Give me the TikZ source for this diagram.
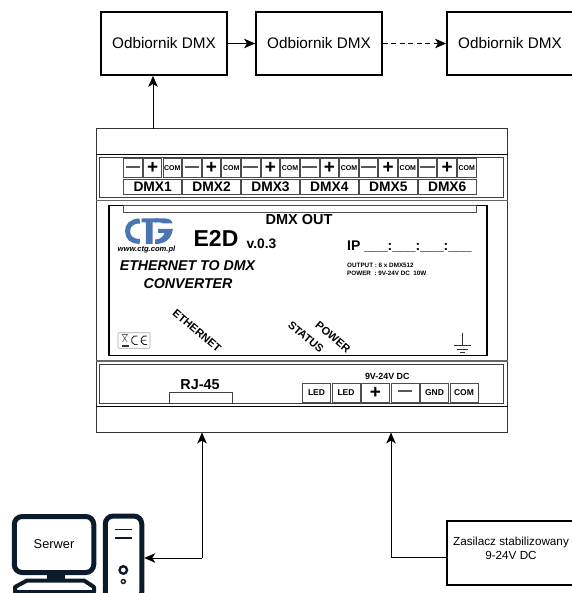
\documentclass[tikz,border=0pt]{standalone}
\usepackage{fontspec}
\setmainfont{Liberation Sans}
\usetikzlibrary{arrows.meta}
\definecolor{navy}{HTML}{0B1B2B}
\definecolor{ctgblue}{HTML}{4A74B4}
\newcommand{\fs}[1]{\fontsize{#1}{#1}\selectfont}
\tikzset{
  x=1pt,y=-1pt,
  tip/.style={-{Stealth[length=11pt,width=9.5pt,inset=3pt]},line width=.8pt,draw=black},
  rbox/.style={draw=black,line width=1.8pt,minimum height=63pt,font=\fs{15.3},inner sep=0pt},
  panel/.style={draw=black!75,line width=.9pt},
  divider/.style={draw=black!60,line width=1.5pt},
  cellbox/.style={draw=black!70,line width=1pt,inner sep=0pt,font=\bfseries},
  tcell/.style={cellbox,minimum width=18.6pt,minimum height=18.5pt},
  dmxcell/.style={cellbox,minimum width=57.6pt,minimum height=14.5pt,font=\bfseries\fs{13.8}},
  lcell/.style={cellbox,minimum width=28pt,minimum height=19pt,font=\bfseries\fs{8.5}},
  plain/.style={inner sep=0pt,font=\bfseries},
  comp/.style={draw=navy,line width=5pt},
}
\newcommand{\minus}{\textcolor{black!65}{\rule[.2em]{1.05em}{.13em}}}
\begin{document}
\begin{tikzpicture}
\useasboundingbox (0,0) rectangle (571,593);
% device body
\node[draw=black!80,line width=1pt,minimum width=410.5pt,minimum height=303pt,inner sep=0pt] (device) at (301.75,280.5) {};
\draw[panel,draw=black] (device.west |- 0,154) coordinate (d1) -- (device.east |- 0,154) coordinate (d2);
\draw[divider] (device.west |- 0,200.5) coordinate (d3) -- (device.east |- 0,200.5) coordinate (d4);
\draw[divider] (device.west |- 0,361) coordinate (d5) -- (device.east |- 0,361) coordinate (d6);
\draw[panel,draw=black] (device.west |- 0,406) coordinate (d7) -- (device.east |- 0,406) coordinate (d8);
\node[panel,minimum width=403.5pt,minimum height=40pt,inner sep=0pt] (toppanel) at (301.25,177) {};
\node[panel,minimum width=403.5pt,minimum height=39.7pt,inner sep=0pt] (botpanel) at (301.25,383.85) {};
% front panel
\node[draw=black,line width=1.5pt,minimum width=378pt,minimum height=150pt,inner sep=0pt] (front) at (298,280.5) {};
\node[draw=black!70,line width=.9pt,minimum width=353pt,minimum height=7.5pt,inner sep=0pt] (strip) at (300,209) {};
% DMX terminals
\foreach \i in {1,...,6}{
  \pgfmathsetmacro{\gx}{123.5+(\i-1)*58.9}
  \node[tcell,font=\fs{14}] (m\i) at (\gx+9.5,168.2) {\minus};
  \node[tcell,font=\bfseries\fs{19}] (p\i) at (\gx+29.1,168.2) {+};
  \node[tcell,font=\bfseries\fs{7}] (c\i) at (\gx+48.8,168.2) {COM};
  \node[dmxcell] (dmx\i) at (\gx+29.2,186.8) {DMX\i};
}
% front panel texts
\node[plain,font=\bfseries\fs{14.5}] (dmxout) at (299,219.5) {DMX OUT};
% logo
\draw[ctgblue,line width=5pt] (139.8,221) .. controls (131,221) and (127.6,226) .. (127.6,231) .. controls (127.6,237) and (131,241.4) .. (139.8,241.4);
\fill[ctgblue] (141.5,218.5) -- (158,218.5) -- (157,222.5) -- (152.5,222.5) -- (152.5,243.8) -- (145.8,243.8) -- (145.8,222.5) -- (141.5,222.5) -- cycle;
\fill[ctgblue] (155,218.5) -- (165,218.5) .. controls (170,218.5) and (172.5,221) .. (172.5,223.5) -- (163,223.5) .. controls (162,222) and (158,222.5) .. (155,222.5) -- cycle;
\fill[ctgblue] (158,229) -- (172.8,229) -- (172,233) .. controls (170,240) and (164,244) .. (155,244) -- (155,239.5) .. controls (160,239.5) and (163.5,237) .. (164.5,232.8) -- (158,232.8) -- cycle;
\node[plain,font=\bfseries\itshape\fs{7.6}] (www) at (146.5,249.5) {www.ctg.com.pl};
\node[plain,font=\bfseries\fs{23}] (e2d) at (216,238.5) {E2D};
\node[plain,font=\bfseries\fs{13.8}] (ver) at (261.5,243.5) {v.0.3};
\node[plain,font=\bfseries\itshape\fs{14.2}] (eth1) at (187.5,265.5) {ETHERNET TO DMX};
\node[plain,font=\bfseries\itshape\fs{14.2}] (eth2) at (188,284) {CONVERTER};
\node[plain,anchor=west,font=\bfseries\fs{14}] (ip) at (347,246.5) {IP \textunderscore\textunderscore\textunderscore:\textunderscore\textunderscore\textunderscore:\textunderscore\textunderscore\textunderscore:\textunderscore\textunderscore\textunderscore};
\node[plain,anchor=west,font=\bfseries\fs{6.3}] (spec1) at (347,265.5) {OUTPUT : 6 x DMX512};
\node[plain,anchor=west,font=\bfseries\fs{6.3}] (spec2) at (347,273) {POWER\ \ : 9V-24V DC\ \ 10W};
\node[plain,rotate=-40,font=\bfseries\fs{11}] (leth) at (197,331) {ETHERNET};
\node[plain,rotate=-40,font=\bfseries\fs{11}] (lsta) at (306,337) {STATUS};
\node[plain,rotate=-40,font=\bfseries\fs{11}] (lpow) at (333,337) {POWER};
% CE mark
\node[draw=black!35,rounded corners=1pt,line width=.7pt,minimum width=32pt,minimum height=15.5pt,inner sep=0pt] (cebox) at (134,340.5) {};
\draw[black!60,line width=.6pt] (121.5,334.5) -- (128,334.5) (122.5,335) -- (127,342) (127,335) -- (122.5,342);
\fill[black!80] (121.5,345) rectangle (128.5,346.5);
\draw[black!85,line width=.9pt] (137.5,336) arc[start angle=70,end angle=290,radius=4.5pt];
\draw[black!85,line width=.9pt] (147,336) arc[start angle=70,end angle=290,radius=4.5pt] (140.5,340.2) -- (146,340.2);
% ground
\coordinate (g0) at (462,332.7);
\coordinate (g1) at (462,345.7);
\draw[black!80,line width=.8pt] (g0) -- (g1) (454,345.7) -- (471,345.7) (456.5,349) -- (468,349) (459.5,352) -- (465,352);
% lower panel
\node[plain,font=\bfseries\fs{14.4}] (rjl) at (200,384.5) {RJ-45};
\node[panel,minimum width=63.2pt,minimum height=11pt,inner sep=0pt] (rj) at (201.1,398.2) {};
\node[plain,font=\bfseries\fs{8.9}] (vdc) at (387.3,376.5) {9V-24V DC};
\node[lcell] (l1) at (316.5,392.5) {LED};
\node[lcell] (l2) at (346,392.5) {LED};
\node[lcell,font=\bfseries\fs{19}] (l3) at (375.5,392.5) {+};
\node[lcell,font=\fs{14}] (l4) at (405,392.5) {\minus};
\node[lcell] (l5) at (434.5,392.5) {GND};
\node[lcell] (l6) at (464,392.5) {COM};
% receivers
\node[rbox,minimum width=126pt] (r1) at (164,43.5) {Odbiornik DMX};
\node[rbox,minimum width=126pt] (r2) at (319,43.5) {Odbiornik DMX};
\node[rbox,minimum width=126pt] (r3) at (510,43.5) {Odbiornik DMX};
\draw[tip] (r1) -- (r2);
\draw[tip,dash pattern=on 5pt off 3.5pt] (r2) -- (r3);
\coordinate (a0) at (153,129);
\draw[tip] (a0) -- (a0 |- r1.south);
% computer
\node[comp,rounded corners=8pt,minimum width=79.5pt,minimum height=56pt,inner sep=0pt,font=\fs{12.8}] (monitor) at (54,544.5) {Serwer};
\fill[navy] (47,573) rectangle (65,581);
\draw[comp,line join=round,line width=4pt] (27,580.5) -- (84,580.5) -- (94,587) -- (94,592) -- (15,592) -- (15,587) -- cycle;
\node[comp,rounded corners=8pt,minimum width=36.5pt,minimum height=84pt,inner sep=0pt] (tower) at (123.5,558) {};
\draw[navy,line width=1.8pt] (115,529.5) -- (132,529.5) (115,538) -- (132,538);
\node[draw=navy,line width=2.4pt,circle,minimum size=7.5pt,inner sep=0pt] (led1) at (123.3,570) {};
\node[draw=navy,line width=1.4pt,circle,minimum size=4pt,inner sep=0pt] (led2) at (123.3,581.5) {};
% supply
\node[draw=black,line width=1.2pt,minimum width=126pt,minimum height=64pt,inner sep=0pt] (psu) at (510,553) {};
\node[inner sep=0pt,align=center,font=\fs{11.7}] (psutext) at (511,548) {Zasilacz stabilizowany\\[2.5pt]9-24V DC};
% connectors
\coordinate (c1) at (202,558);
\coordinate (c2) at (391,557);
\draw[tip] (c1) -- (c1 |- device.south);
\draw[tip] (c1) -- (tower.east |- c1);
\draw[tip] (c2) -- (c2 |- device.south);
\draw[line width=.8pt] (c2) -- (c2 -| psu.west);
\end{tikzpicture}
\end{document}
